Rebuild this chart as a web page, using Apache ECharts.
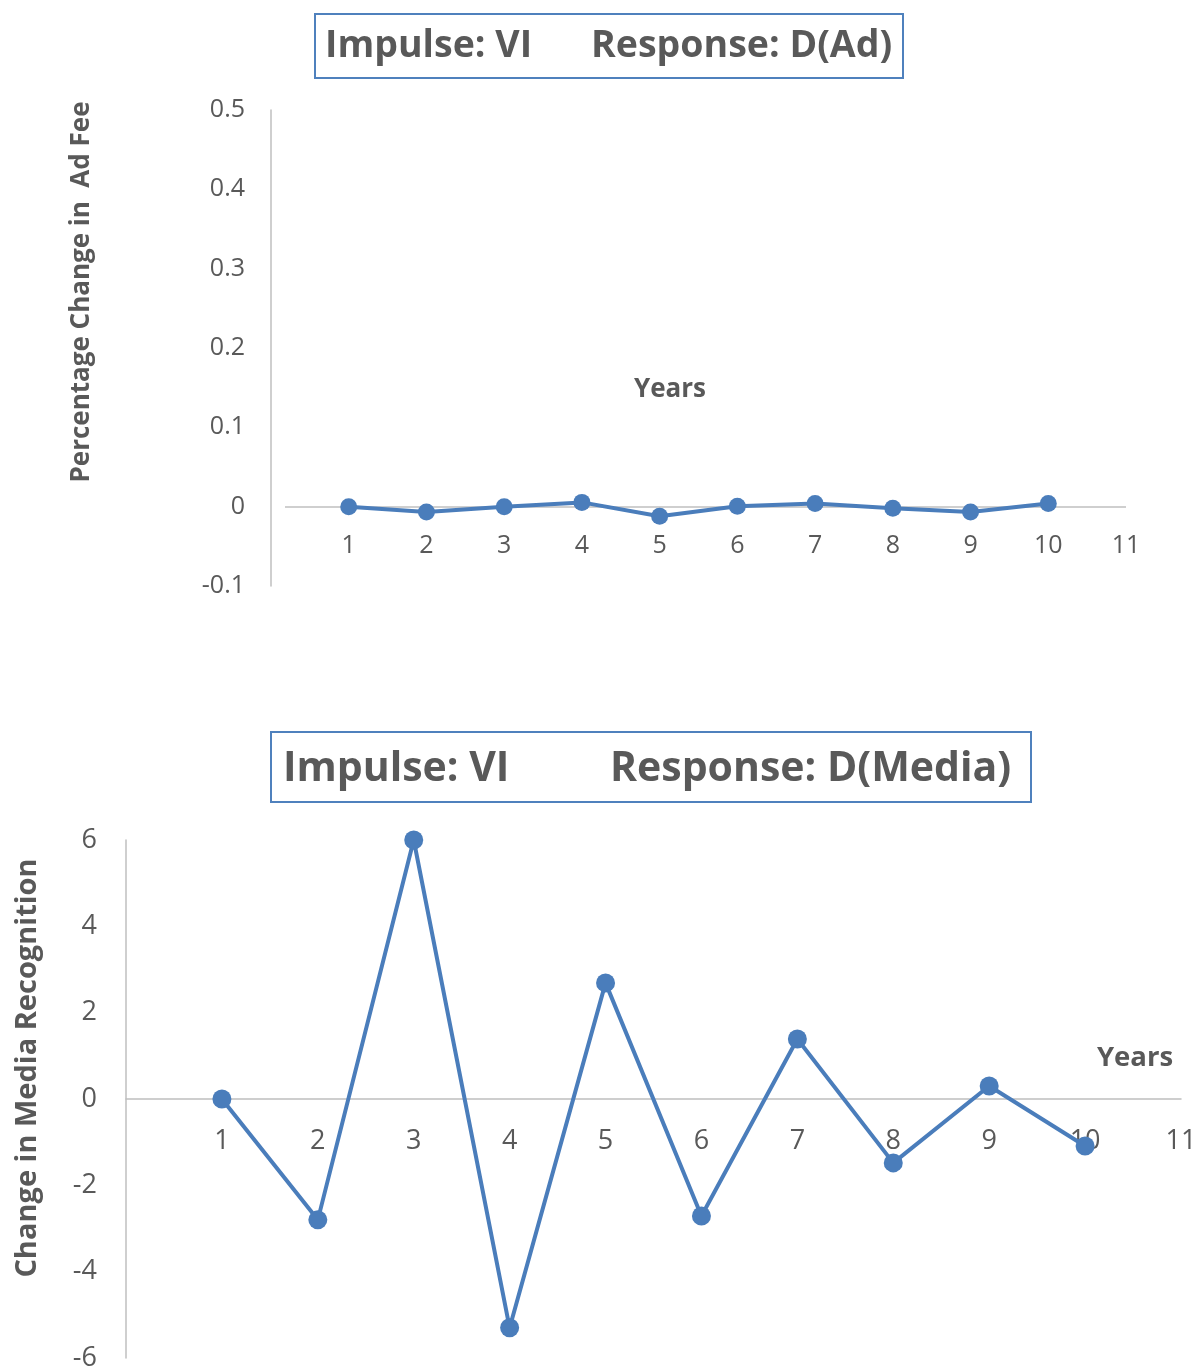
<!DOCTYPE html>
<html>
<head>
<meta charset="utf-8">
<script src="https://cdn.jsdelivr.net/npm/echarts@6/dist/echarts.min.js"></script>
<style>
  html, body { margin: 0; padding: 0; background: #fff; }
  #chart { width: 1198px; height: 1370px; }
</style>
</head>
<body>
<div id="chart"></div>
<script>
// Impulse responses to a VI shock, years 1-10
const years = [1, 2, 3, 4, 5, 6, 7, 8, 9, 10];
const adFeeResponse = [0, -0.0067, 0, 0.0054, -0.012, 0.0005, 0.004, -0.002, -0.0067, 0.004];
const mediaResponse = [0, -2.8, 6.0, -5.3, 2.69, -2.71, 1.39, -1.48, 0.30, -1.09];

const impulseLabel = 'Impulse: VI';
const topResponseLabel = 'Response: D(Ad)';
const bottomResponseLabel = 'Response: D(Media)';
const topYName = 'Percentage Change in  Ad Fee';
const bottomYName = 'Change in Media Recognition';
const xName = 'Years';

const FONT = '"Open Sans", "Noto Sans", sans-serif';
const TEXT = '#595959';
const AXIS = '#bfbfbf';
const LINE = '#4a7dbb';

const pairs = (xs, ys) => xs.map((x, i) => [x, ys[i]]);

// grid boxes; the x axes are shifted up so they run along y = 0
const topGrid = { left: 271, top: 110, width: 855, height: 476 };
const bottomGrid = { left: 126, top: 840, width: 1055, height: 518 };
const topYRange = [-0.1, 0.5];
const bottomYRange = [-6, 6];
const zeroOffset = (g, r) => -g.height * (0 - r[0]) / (r[1] - r[0]);

const chart = echarts.init(document.getElementById('chart'), null, { renderer: 'canvas' });

chart.setOption({
  animation: false,
  backgroundColor: '#ffffff',
  grid: [
    Object.assign({ outerBoundsMode: 'none', containLabel: false }, topGrid),
    Object.assign({ outerBoundsMode: 'none', containLabel: false }, bottomGrid)
  ],
  xAxis: [
    {
      gridIndex: 0, type: 'value', min: 0, max: 11, interval: 1,
      position: 'bottom', offset: zeroOffset(topGrid, topYRange),
      // the visible zero line is a markLine that starts a little right of the y axis
      axisLine: { show: false, onZero: false },
      axisTick: { show: false },
      splitLine: { show: false },
      axisLabel: { showMinLabel: false, fontFamily: FONT, fontSize: 25, color: TEXT, margin: 27 }
    },
    {
      gridIndex: 1, type: 'value', min: 0, max: 11, interval: 1,
      position: 'bottom', offset: zeroOffset(bottomGrid, bottomYRange),
      axisLine: { show: true, onZero: false, lineStyle: { color: AXIS, width: 1.5 } },
      axisTick: { show: false },
      splitLine: { show: false },
      axisLabel: { showMinLabel: false, fontFamily: FONT, fontSize: 27, color: TEXT, margin: 29 }
    }
  ],
  yAxis: [
    {
      gridIndex: 0, type: 'value', min: topYRange[0], max: topYRange[1], interval: 0.1,
      axisLine: { show: true, onZero: false, lineStyle: { color: AXIS, width: 1.5 } },
      axisTick: { show: false },
      splitLine: { show: false },
      axisLabel: {
        fontFamily: FONT, fontSize: 25, color: TEXT, margin: 26,
        formatter: v => (Math.abs(v) < 1e-9 ? '0' : String(Math.round(v * 10) / 10))
      }
    },
    {
      gridIndex: 1, type: 'value', min: bottomYRange[0], max: bottomYRange[1], interval: 2,
      axisLine: { show: true, onZero: false, lineStyle: { color: AXIS, width: 1.5 } },
      axisTick: { show: false },
      splitLine: { show: false },
      axisLabel: { fontFamily: FONT, fontSize: 27, color: TEXT, margin: 29 }
    }
  ],
  series: [
    {
      type: 'line', xAxisIndex: 0, yAxisIndex: 0,
      data: pairs(years, adFeeResponse),
      symbol: 'circle', symbolSize: 17,
      lineStyle: { color: LINE, width: 4 },
      itemStyle: { color: LINE },
      markLine: {
        silent: true, symbol: 'none', z: 1,
        label: { show: false },
        lineStyle: { color: AXIS, width: 1.5, type: 'solid' },
        data: [[{ coord: [0.18, 0] }, { coord: [11, 0] }]]
      }
    },
    {
      type: 'line', xAxisIndex: 1, yAxisIndex: 1,
      data: pairs(years, mediaResponse),
      symbol: 'circle', symbolSize: 19,
      lineStyle: { color: LINE, width: 4 },
      itemStyle: { color: LINE }
    }
  ],
  graphic: [
    // chart titles in framed boxes
    {
      type: 'rect', left: 314, top: 13,
      shape: { width: 588, height: 64 },
      style: { fill: '#fff', stroke: '#4f81bd', lineWidth: 2 }
    },
    {
      type: 'text', x: 325, y: 46,
      style: { text: impulseLabel, fill: TEXT, font: 'bold 37.5px ' + FONT, align: 'left', verticalAlign: 'middle' }
    },
    {
      type: 'text', x: 591, y: 46,
      style: { text: topResponseLabel, fill: TEXT, font: 'bold 37.5px ' + FONT, align: 'left', verticalAlign: 'middle' }
    },
    {
      type: 'rect', left: 270, top: 731,
      shape: { width: 760, height: 70 },
      style: { fill: '#fff', stroke: '#4f81bd', lineWidth: 2 }
    },
    {
      type: 'text', x: 283, y: 769,
      style: { text: impulseLabel, fill: TEXT, font: 'bold 41px ' + FONT, align: 'left', verticalAlign: 'middle' }
    },
    {
      type: 'text', x: 610, y: 769,
      style: { text: bottomResponseLabel, fill: TEXT, font: 'bold 41px ' + FONT, align: 'left', verticalAlign: 'middle' }
    },
    // axis titles
    {
      type: 'text', x: 82, y: 292, rotation: Math.PI / 2,
      style: { text: topYName, fill: TEXT, font: 'bold 26px ' + FONT, align: 'center', verticalAlign: 'middle' }
    },
    {
      type: 'text', x: 28, y: 1068, rotation: Math.PI / 2,
      style: { text: bottomYName, fill: TEXT, font: 'bold 29px ' + FONT, align: 'center', verticalAlign: 'middle' }
    },
    {
      type: 'text', x: 670, y: 390,
      style: { text: xName, fill: TEXT, font: 'bold 26px ' + FONT, align: 'center', verticalAlign: 'middle' }
    },
    {
      type: 'text', x: 1135, y: 1058,
      style: { text: xName, fill: TEXT, font: 'bold 27.5px ' + FONT, align: 'center', verticalAlign: 'middle' }
    }
  ]
});
</script>
</body>
</html>
